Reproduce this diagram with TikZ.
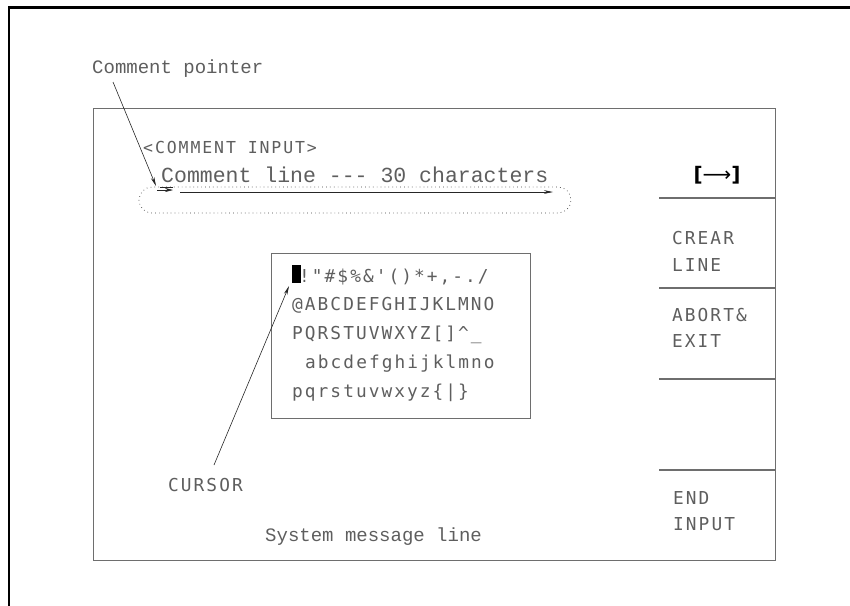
\documentclass[tikz,border=0pt]{standalone}
\usepackage{fontspec}
\usetikzlibrary{arrows.meta}
\newfontfamily\hpsans[LetterSpace=11.5]{DejaVu Sans Mono}
\newfontfamily\hpmono{Liberation Mono}
\newfontfamily\djsans{DejaVu Sans}
\definecolor{txtgray}{HTML}{5E5E5E}
\definecolor{linegray}{HTML}{6E6E6E}
\begin{document}
\begin{tikzpicture}[x=1pt,y=-1pt,
  lbl/.style={inner sep=0pt, text=txtgray, font=\hpsans\fontsize{17.8}{20}\selectfont, anchor=base west},
  mlbl/.style={inner sep=0pt, text=txtgray, font=\hpmono\fontsize{19}{22}\selectfont, anchor=base west},
  frameline/.style={draw=linegray, line width=1.1pt},
  ptr/.style={draw=black!85, line width=0.6pt, -{Stealth[length=9pt,width=3.6pt]}},
  dotline/.style={draw=black!75, line width=0.7pt, dash pattern=on 0.7pt off 3.2pt, rounded corners=13pt},
]
\useasboundingbox (0,0) rectangle (850,605);
% outer frame (cropped)
\draw[line width=2.4pt] (9,606) -- (9,7.5) -- (852,7.5);
% screen box
\node[frameline, inner sep=0pt, minimum width=682pt, minimum height=452pt, anchor=north west] (screen) at (93,108) {};
% softkey dividers
\foreach \yy in {198,288,379,470}{
  \draw[frameline] (659,\yy) -- (screen.east |- 0,\yy);
}
% softkey labels
\node[inner sep=0pt, font=\djsans\fontsize{20}{22}\selectfont] (sk1) at (717,175) {{\bfseries[}⟶{\bfseries]}};
\node[lbl] (sk2a) at (672,244) {CREAR};
\node[lbl] (sk2b) at (672,271) {LINE};
\node[lbl] (sk3a) at (672,321) {ABORT\&};
\node[lbl] (sk3b) at (672,347) {EXIT};
\node[lbl] (sk5a) at (673,504) {END};
\node[lbl] (sk5b) at (673,530) {INPUT};
% top texts
\node[mlbl] (cptr) at (92,73) {Comment pointer};
\node[lbl, font=\hpsans\fontsize{16.5}{19}\selectfont] (title) at (143,153) {<COMMENT INPUT>};
\node[mlbl, font=\hpmono\fontsize{21.5}{24}\selectfont] (cline) at (161,182) {Comment line --- 30 characters};
% comment line field
\draw[dotline] (139,187) rectangle (571,213);
\coordinate (indA) at (157,190);
\coordinate (indB) at (173,190);
\draw[draw=black!85, line width=0.7pt] (160,187) -- (173,187);
\draw[ptr, -{Stealth[length=8pt,width=4pt]}] (indA) -- (indB);
\coordinate (lineA) at (180,192);
\coordinate (lineB) at (553,192);
\draw[ptr] (lineA) -- (lineB);
% comment pointer arrow
\coordinate (pstart) at (113,82);
\coordinate (pend) at (156,186);
\draw[ptr] (pstart) -- (pend);
% character box
\node[frameline, inner sep=0pt, minimum width=259pt, minimum height=165pt, anchor=north west] (charbox) at (271,253) {};
\node[fill=black, inner sep=0pt, minimum width=9pt, minimum height=18pt, anchor=south west] (cur) at (292,283) {};
\node[lbl] (r1) at (299,282) {!"\#\$\%\&'()*+,-./};
\node[lbl] (r2) at (292,310) {@ABCDEFGHIJKLMNO};
\node[lbl] (r3) at (292,339) {PQRSTUVWXYZ[]\textasciicircum\_};
\node[lbl] (r4) at (305,368) {abcdefghijklmno};
\node[lbl] (r5) at (292,397) {pqrstuvwxyz\{|\}};
% cursor label and arrow
\node[lbl] (curlbl) at (168,491) {CURSOR};
\coordinate (cstart) at (214,465);
\draw[ptr] (cstart) -- ([xshift=-3pt,yshift=-3pt]cur.south west);
% system message line
\node[mlbl] (sysmsg) at (265,541) {System message line};
\end{tikzpicture}
\end{document}
